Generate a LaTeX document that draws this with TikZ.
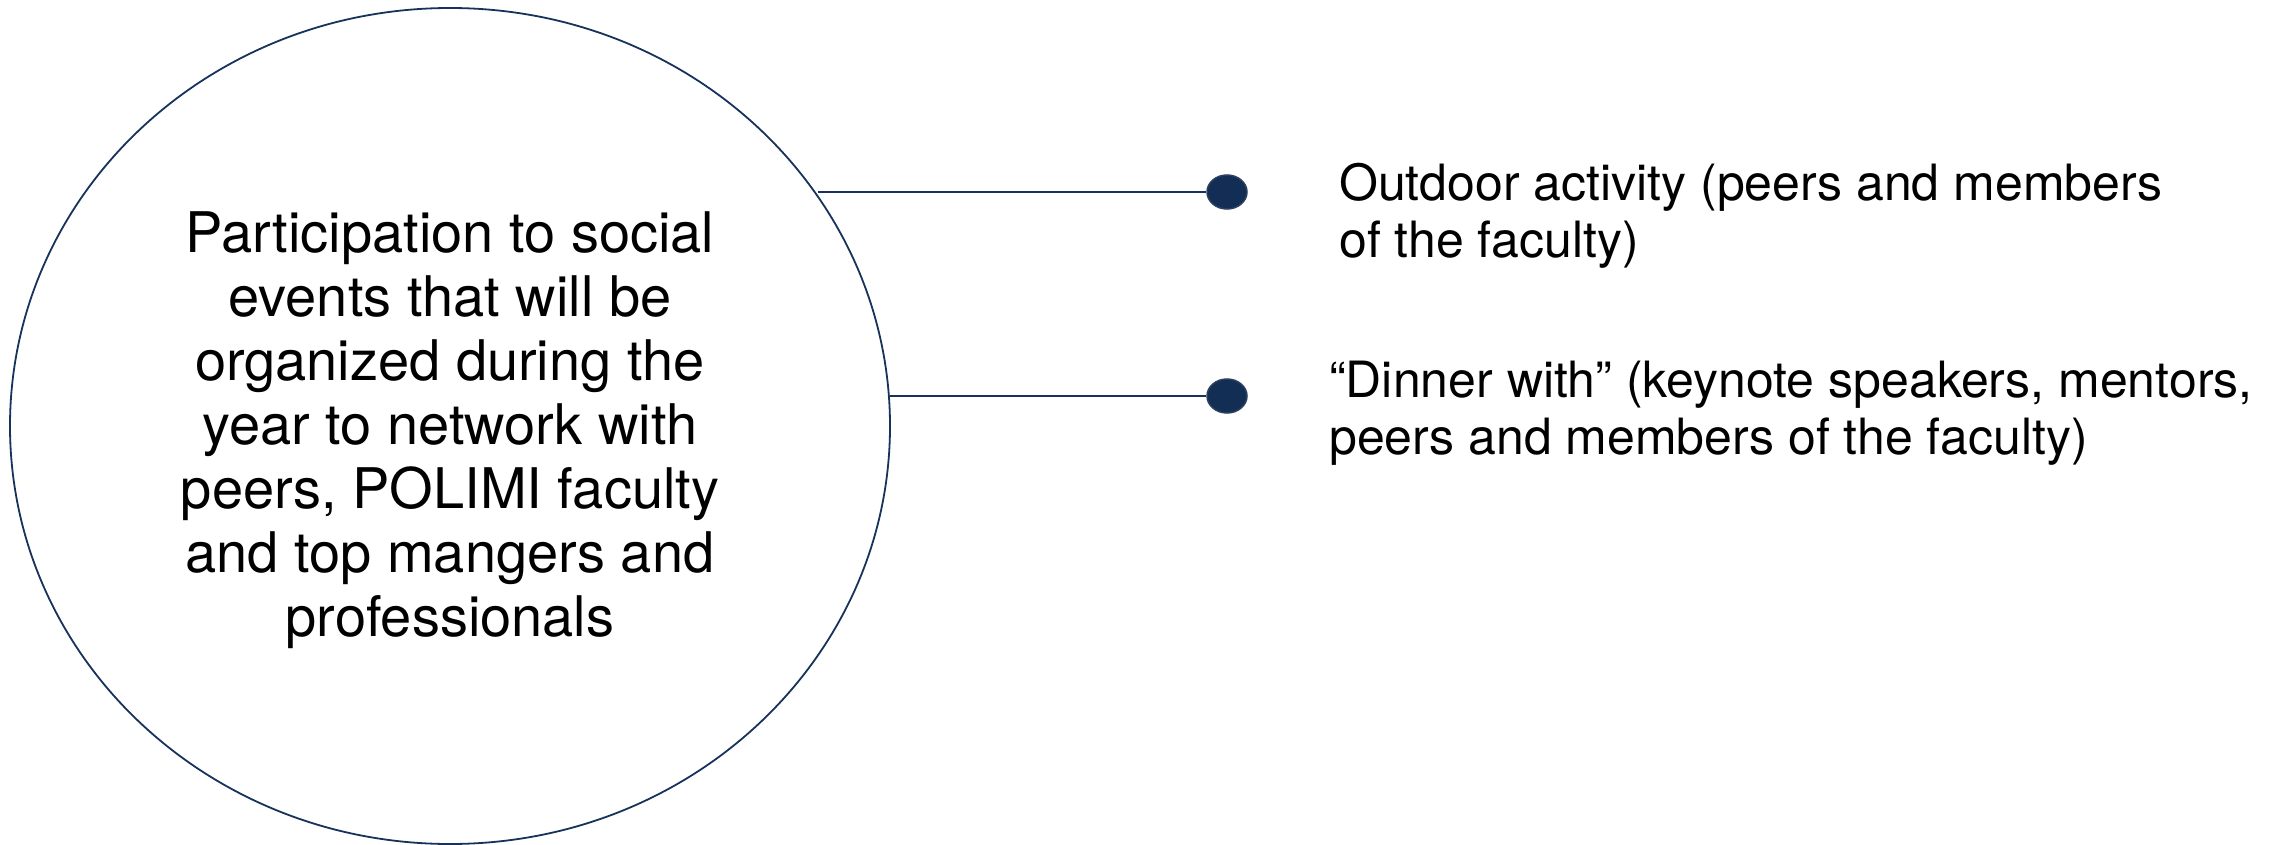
\documentclass[tikz,border=0pt]{standalone}
\usepackage{fontspec}
\setmainfont{TeX Gyre Heros}
\usetikzlibrary{shapes.geometric}
\definecolor{navy}{HTML}{17325B}
\definecolor{dotfill}{HTML}{132E54}
\definecolor{dotedge}{HTML}{2C405E}
\tikzset{
  bigcirc/.style={ellipse, draw=navy, line width=1.8pt, minimum width=880pt, minimum height=836pt, inner sep=0pt},
  bullet/.style={ellipse, fill=dotfill, draw=dotedge, line width=1.5pt, minimum width=40pt, minimum height=34pt, inner sep=0pt},
  link/.style={draw=navy, line width=2pt},
  sidetext/.style={anchor=west, align=left, inner sep=0pt, font=\fontsize{50}{57}\selectfont},
  maintext/.style={align=center, inner sep=0pt, font=\fontsize{56}{64}\selectfont}
}
\begin{document}
\begin{tikzpicture}[x=1pt,y=-1pt]
\useasboundingbox (0,0) rectangle (2290,845);
\node[bigcirc] (circ) at (450,426) {};
\node[maintext] (mtxt) at (450,430) {Participation to social\\events that will be\\organized during the\\year to network with\\peers, POLIMI faculty\\and top mangers and\\professionals};
\node[bullet] (d1) at (1227,192) {};
\node[bullet] (d2) at (1227,396) {};
\draw[link] (circ.32.7 |- d1) -- (d1);
\draw[link] (circ.3.7 |- d2) -- (d2);
\node[sidetext] (t1) at (1339,216) {Outdoor activity (peers and members\\of the faculty)};
\node[sidetext] (t2) at (1329,413) {“Dinner with” (keynote speakers, mentors,\\peers and members of the faculty)};
\end{tikzpicture}
\end{document}
